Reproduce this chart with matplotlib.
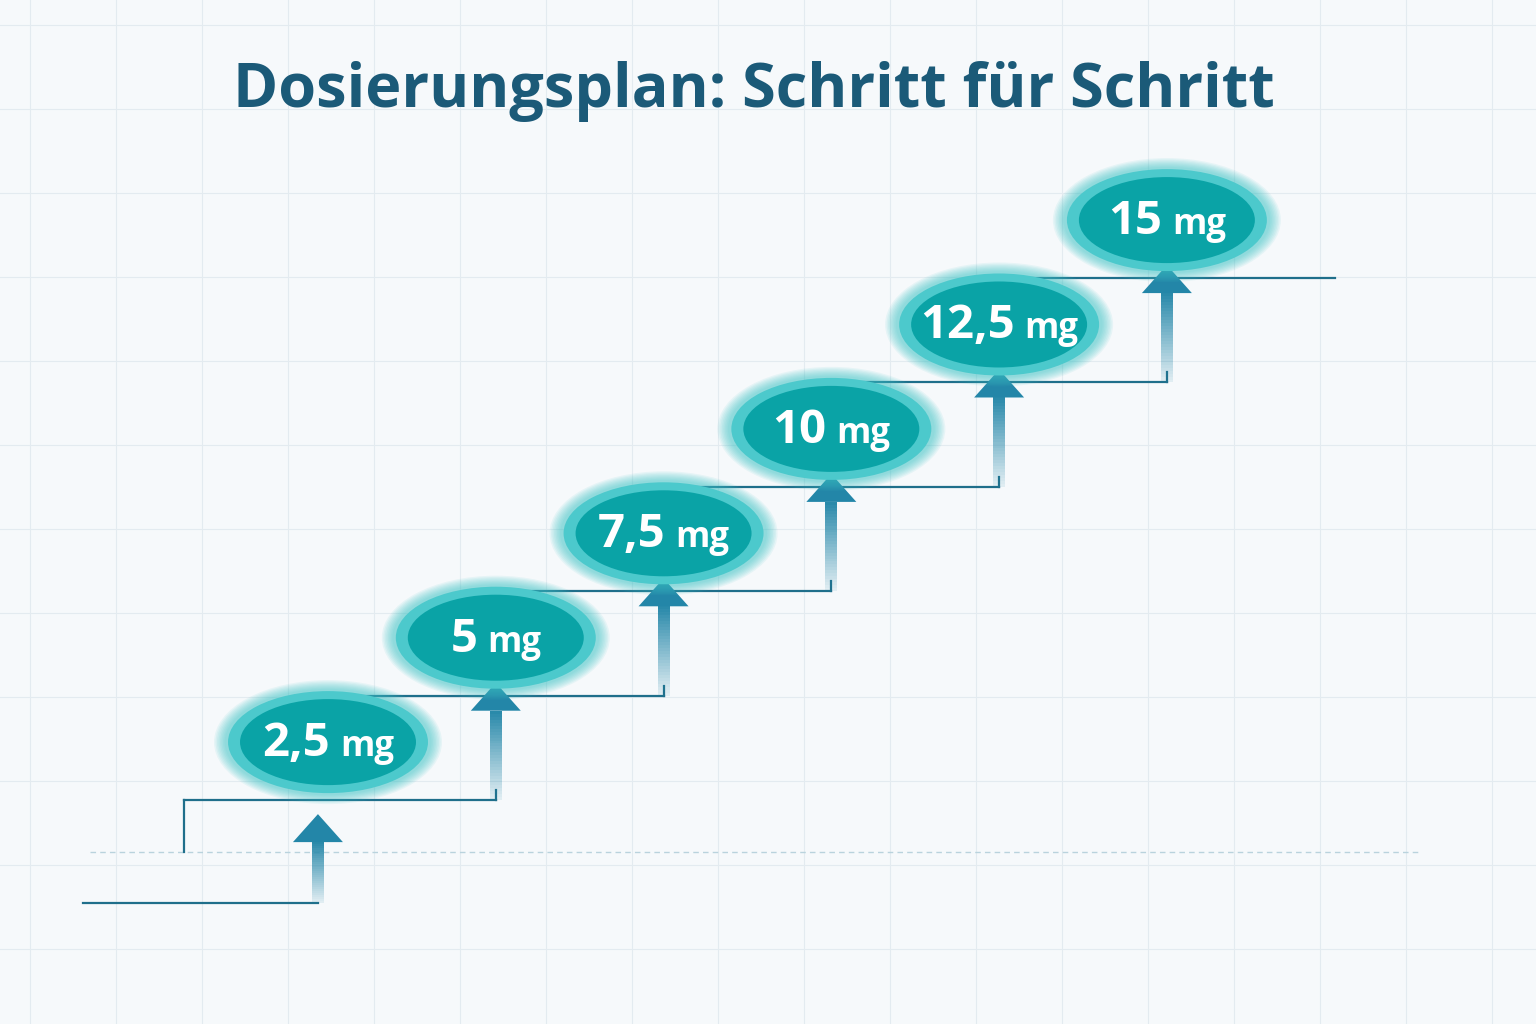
import matplotlib
matplotlib.use("Agg")
import matplotlib.pyplot as plt
from matplotlib.patches import Ellipse, Polygon, Rectangle
import numpy as np

steps = [0, 1, 2, 3, 4, 5]
doses = [2.5, 5, 7.5, 10, 12.5, 15]
dose_labels = ["2,5", "5", "7,5", "10", "12,5", "15"]
unit = "mg"
title = "Dosierungsplan: Schritt für Schritt"

W, H = 1536, 1024
fig = plt.figure(figsize=(W/100, H/100), dpi=100)
fig.patch.set_facecolor("#f6f9fb")
ax = fig.add_axes([0, 0, 1, 1])
ax.set_facecolor("#f6f9fb")
ax.set_xlim(-1.955, 7.2)
ax.set_ylim(-4.25, 20.27)
ax.axis("off")
px = 1/167.8      # data x per pixel
py = 2.5/104.4    # data y per pixel

# background grid
for gx in np.arange(-1.955 + 30*px, 7.2, 86*px):
    ax.axvline(gx, color="#e3ebf0", lw=0.8, zorder=0)
for gy in np.arange(-4.25 + 75*py, 20.27, 84*py):
    ax.axhline(gy, color="#e3ebf0", lw=0.8, zorder=0)

line_c = "#1f6f8b"
arrow_c = "#2386a8"

def arrow(x, y0, y1):
    n = 30
    ys = np.linspace(y0, y1 - 28*py, n + 1)
    for k in range(n):
        ax.add_patch(Rectangle((x - 6*px, ys[k]), 12*px, ys[k+1] - ys[k],
                               color=arrow_c, alpha=0.1 + 0.9*k/n, lw=0, zorder=3))
    ax.add_patch(Polygon([[x - 25*px, y1 - 28*py], [x + 25*px, y1 - 28*py], [x, y1]],
                         color=arrow_c, lw=0, zorder=3))

# dashed baseline and first step
base_y = doses[0] - 58*py
ax.plot([90*px - 1.955, 1420*px - 1.955], [doses[0] - 110*py]*2, ls=(0, (4, 3)), color="#b9d3dd", lw=1, zorder=1)
ax.plot([-1.955 + 83*px, -0.06], [doses[0] - 161*py]*2, color=line_c, lw=1.6, zorder=2)
ax.plot([-0.86, -0.86], [doses[0] - 110*py, base_y], color=line_c, lw=1.6, zorder=2)
arrow(-0.06, doses[0] - 161*py, doses[0] - 72*py)

for i, (s, d) in enumerate(zip(steps, doses)):
    ly = d - 58*py
    x_end = s + 1.0
    ax.plot([s - 0.86, x_end], [ly, ly], color=line_c, lw=1.6, zorder=2)
    if i < len(steps) - 1:
        ax.plot([x_end, x_end], [ly, ly + 10*py], color=line_c, lw=1.6, zorder=2)
        arrow(x_end, ly, doses[i+1] - 45*py)
    # glow
    for k in range(8):
        ax.add_patch(Ellipse((s, d), (228 - k*3)*px, (124 - k*2.5)*py,
                             color="#3ec3c6", alpha=0.09, lw=0, zorder=4))
    ax.add_patch(Ellipse((s, d), 200*px, 102*py, color="#4cc9cc", lw=0, zorder=5))
    ax.add_patch(Ellipse((s, d), 176*px, 86*py, color="#0aa3a6", lw=0, zorder=6))

fig.canvas.draw()
r = fig.canvas.get_renderer()
for s, d, lab in zip(steps, doses, dose_labels):
    t1 = ax.text(0, 0, lab, fontsize=34, fontweight="bold", color="white",
                 family="Open Sans", va="baseline", zorder=7)
    t2 = ax.text(0, 0, unit, fontsize=25, fontweight="bold", color="white",
                 family="Open Sans", va="baseline", zorder=7)
    w1 = t1.get_window_extent(r).width
    w2 = t2.get_window_extent(r).width
    gap = 10
    x0 = s - (w1 + gap + w2)/2*px
    yb = d - 14*py
    t1.set_position((x0, yb))
    t2.set_position((x0 + (w1 + gap)*px, yb))

fig.text(233/W, 1 - 92/H, title, fontsize=44, fontweight="bold", color="#1b5a78",
         family="Open Sans", va="center", ha="left")
fig.savefig("out.png", dpi=100, facecolor=fig.get_facecolor())
